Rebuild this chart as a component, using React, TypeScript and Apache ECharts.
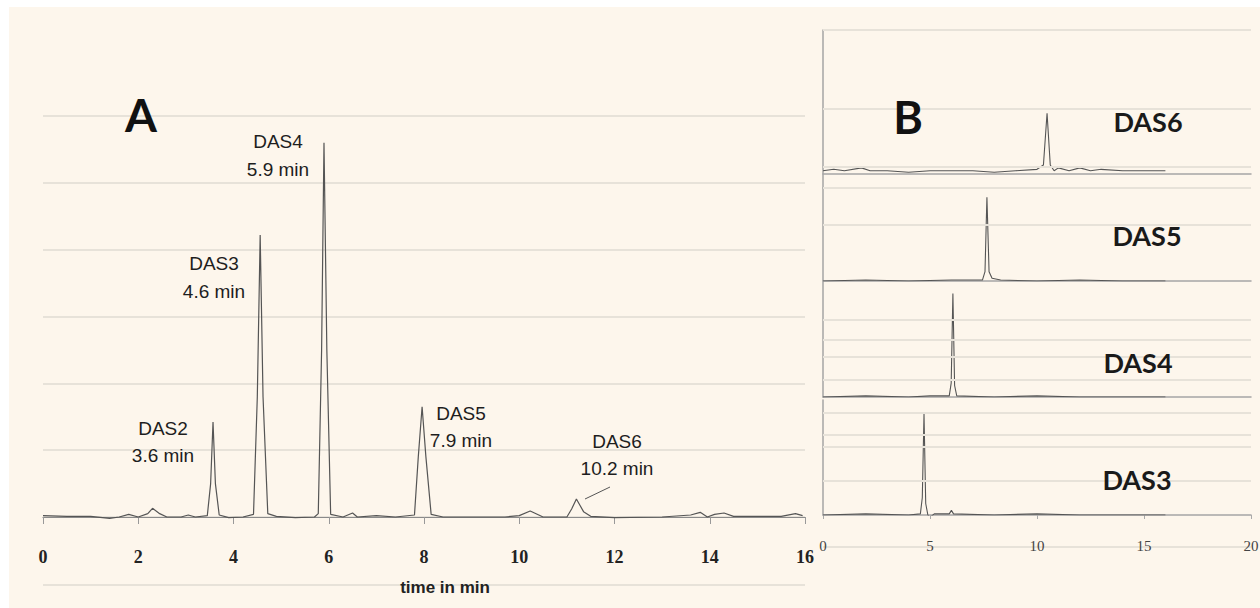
import React, { useEffect, useRef } from "react";
import * as echarts from "echarts";

// Panel A: full chromatogram (time in min, relative response)
const traceA: [number, number][] = [
  [0, 0.02], [0.5, 0.01], [1.0, 0.01], [1.4, -0.02], [1.6, 0.0], [1.8, 0.04], [2.0, 0.0],
  [2.2, 0.05], [2.3, 0.13], [2.45, 0.05], [2.6, 0.0], [2.9, 0.0], [3.05, 0.03], [3.2, 0.0],
  [3.45, 0.02], [3.52, 0.5], [3.57, 1.42], [3.62, 0.5], [3.7, 0.03], [3.9, -0.01], [4.2, 0.0],
  [4.42, 0.04], [4.5, 1.8], [4.56, 4.22], [4.62, 1.8], [4.72, 0.05], [4.9, 0.01], [5.3, -0.01],
  [5.7, 0.0], [5.78, 0.05], [5.85, 2.5], [5.9, 5.6], [5.96, 2.5], [6.04, 0.04], [6.3, 0.0],
  [6.5, 0.06], [6.6, 0.0], [7.0, 0.02], [7.4, 0.0], [7.8, 0.03], [7.88, 0.9], [7.96, 1.65],
  [8.04, 0.9], [8.15, 0.04], [8.4, 0.0], [9.0, 0.0], [9.7, 0.0], [10.0, 0.02], [10.23, 0.09],
  [10.5, 0.0], [11.0, 0.0], [11.1, 0.12], [11.2, 0.27], [11.35, 0.08], [11.5, 0.01], [12.0, -0.01],
  [13.0, 0.0], [13.6, 0.03], [13.8, 0.07], [13.95, 0.0], [14.1, 0.04], [14.3, 0.06], [14.5, 0.01],
  [15.5, 0.01], [15.8, 0.05], [15.95, 0.02],
];

// Panel B: single-standard chromatograms (normalised)
const traceDAS6: [number, number][] = [
  [0, 0.02], [0.5, 0.03], [1, 0.02], [1.8, 0.04], [2.2, 0.02], [3, 0.02], [4, 0.01], [5, 0.02],
  [6, 0.02], [7, 0.02], [8, 0.01], [9, 0.02], [10, 0.03], [10.3, 0.06], [10.47, 0.42],
  [10.62, 0.06], [10.8, 0.02], [11, 0.04], [11.5, 0.02], [12, 0.04], [12.5, 0.02], [13, 0.03],
  [14, 0.02], [15, 0.02], [16, 0.02],
];
const traceDAS5: [number, number][] = [
  [0, 0.0], [2, 0.01], [4, 0.0], [6, 0.01], [7.45, 0.01], [7.57, 0.1], [7.66, 0.9], [7.76, 0.1],
  [7.9, 0.03], [8.3, 0.01], [10, 0.0], [12, 0.01], [14, 0.0], [16, 0.0],
];
const traceDAS4: [number, number][] = [
  [0, 0.0], [2, 0.01], [4, 0.0], [5.0, 0.01], [5.9, 0.01], [5.99, 0.12], [6.07, 0.9], [6.15, 0.1],
  [6.25, 0.01], [8, 0.0], [10, 0.01], [12, 0.0], [14, 0.0], [16, 0.0],
];
const traceDAS3: [number, number][] = [
  [0, 0.0], [2, 0.01], [4, 0.0], [4.55, 0.01], [4.64, 0.15], [4.72, 0.88], [4.8, 0.1], [4.9, 0.0],
  [5.0, -0.02], [5.2, 0.01], [5.9, 0.01], [6.0, 0.04], [6.1, 0.01], [8, 0.0], [10, 0.01],
  [12, 0.0], [14, 0.0], [16, 0.0],
];

const gridB6 = [0.05, 0.45, 1];
const gridB5 = [0.61, 1];
const gridB4 = [0.15, 0.35, 0.5, 0.67];
const gridB3 = [0.3, 0.59, 0.7, 0.89];

const xTicksB = ["0", "5", "10", "15", "20"];

const panelALabels = [
  { name: "DAS2", time: "3.6 min" },
  { name: "DAS3", time: "4.6 min" },
  { name: "DAS4", time: "5.9 min" },
  { name: "DAS5", time: "7.9 min" },
  { name: "DAS6", time: "10.2 min" },
];
const panelBLabels = ["DAS6", "DAS5", "DAS4", "DAS3"];

const BG = "#fdf6ec";
const GRID = "#e7e2d9";
const TRACE = "#555555";

export default function App() {
  const ref = useRef<HTMLDivElement>(null);
  useEffect(() => {
    if (!ref.current) return;
    const chart = echarts.init(ref.current, undefined, { renderer: "svg" });

    const bGrids = [
      { top: 30, bottom: 420, min: -0.1 },
      { top: 188, bottom: 327, min: 0 },
      { top: 282, bottom: 211, min: 0 },
      { top: 400, bottom: 93, min: 0 },
    ];
    const bTraces = [traceDAS6, traceDAS5, traceDAS4, traceDAS3];
    const bGridLines = [gridB6, gridB5, gridB4, gridB3];

    const grids: any[] = [
      { left: 43, right: 455, top: 116, bottom: 91, outerBoundsMode: "none", containLabel: false },
    ];
    const xAxes: any[] = [
      {
        type: "value",
        gridIndex: 0,
        min: 0,
        max: 16,
        interval: 2,
        axisLine: { onZero: false, lineStyle: { color: "#8a8a8a", width: 1.2 } },
        axisTick: { show: true, length: 7, lineStyle: { color: "#999" } },
        axisLabel: {
          margin: 31,
          color: "#222",
          fontFamily: "Liberation Serif",
          fontWeight: "bold",
          fontSize: 18,
        },
        splitLine: { show: false },
      },
    ];
    const yAxes: any[] = [
      {
        type: "value",
        gridIndex: 0,
        min: 0,
        max: 6,
        interval: 1,
        axisLine: { show: false },
        axisTick: { show: false },
        axisLabel: { show: false },
        splitLine: { show: true, lineStyle: { color: GRID, width: 2 } },
      },
    ];
    const series: any[] = [
      {
        type: "line",
        xAxisIndex: 0,
        yAxisIndex: 0,
        data: traceA,
        showSymbol: false,
        symbol: "none",
        lineStyle: { color: TRACE, width: 1.2 },
        silent: true,
        clip: false,
      },
    ];

    bGrids.forEach((g, i) => {
      const idx = i + 1;
      const last = i === bGrids.length - 1;
      grids.push({
        left: 823,
        right: 9,
        top: g.top,
        bottom: g.bottom,
        outerBoundsMode: "none",
        containLabel: false,
      });
      xAxes.push({
        type: "value",
        gridIndex: idx,
        min: 0,
        max: 20,
        interval: 5,
        axisLine: { onZero: true, lineStyle: { color: "#a5a5a5", width: 1.5 } },
        axisTick: { show: last, length: 4, lineStyle: { color: "#aaa" } },
        axisLabel: {
          show: last,
          margin: 23,
          color: "#444",
          fontFamily: "Liberation Serif",
          fontSize: 15,
          formatter: (v: number) => xTicksB[Math.round(v / 5)] ?? "",
        },
        splitLine: { show: false },
      });
      yAxes.push({
        type: "value",
        gridIndex: idx,
        min: g.min,
        max: 1,
        axisLine: { show: true, onZero: false, lineStyle: { color: "#a5a5a5", width: 1.5 } },
        axisTick: { show: false },
        axisLabel: { show: false },
        splitLine: { show: false },
      });
      series.push({
        type: "line",
        xAxisIndex: idx,
        yAxisIndex: idx,
        data: bTraces[i],
        showSymbol: false,
        symbol: "none",
        lineStyle: { color: TRACE, width: 1.1 },
        silent: true,
        markLine: {
          silent: true,
          symbol: "none",
          label: { show: false },
          lineStyle: { color: GRID, width: 2, type: "solid" },
          data: bGridLines[i].map((v) => ({ yAxis: v })),
        },
        z: 3,
      });
    });

    const annFont = {
      fontFamily: "Liberation Sans, Arial, sans-serif",
      fontSize: 19,
      fill: "#1e1e1e",
      align: "center",
      verticalAlign: "middle",
    };
    const annPos = [
      [163, 428, 455],
      [214, 263, 291],
      [278, 141, 169],
      [461, 413, 440],
      [617, 441, 468],
    ];
    const graphics: any[] = [
      {
        type: "rect",
        shape: { x: 9, y: 7, width: 1251, height: 601 },
        style: { fill: BG },
        z: -10,
        silent: true,
      },
      {
        // faint extra gridline below the time axis (as in the original figure)
        type: "line",
        shape: { x1: 43, y1: 585, x2: 805, y2: 585 },
        style: { stroke: GRID, lineWidth: 2 },
        z: -5,
        silent: true,
      },
      {
        type: "line",
        shape: { x1: 823, y1: 547, x2: 1251, y2: 547 },
        style: { stroke: GRID, lineWidth: 2 },
        z: -5,
        silent: true,
      },
    ];
    panelALabels.forEach((l, i) => {
      const [x, y1, y2] = annPos[i];
      graphics.push({ type: "text", x, y: y1, style: { ...annFont, text: l.name }, z: 10 });
      graphics.push({ type: "text", x, y: y2, style: { ...annFont, text: l.time }, z: 10 });
    });
    graphics.push({
      type: "line",
      shape: { x1: 585, y1: 499, x2: 610, y2: 487 },
      style: { stroke: "#555", lineWidth: 1 },
      z: 10,
    });
    graphics.push({
      type: "text",
      x: 445,
      y: 587,
      style: {
        text: "time in min",
        fontFamily: "Liberation Sans, Arial, sans-serif",
        fontWeight: "bold",
        fontSize: 17,
        fill: "#222",
        align: "center",
        verticalAlign: "middle",
      },
      z: 10,
    });
    graphics.push({
      type: "text",
      x: 141,
      y: 114,
      style: {
        text: "A",
        fontFamily: "Lato, sans-serif",
        fontWeight: "bold",
        fontSize: 46,
        fill: "#111",
        align: "center",
        verticalAlign: "middle",
      },
      z: 10,
    });
    graphics.push({
      type: "text",
      x: 908,
      y: 117,
      style: {
        text: "B",
        fontFamily: "Lato, sans-serif",
        fontWeight: "bold",
        fontSize: 45,
        fill: "#111",
        align: "center",
        verticalAlign: "middle",
      },
      z: 10,
    });
    const bLabelPos = [
      [1148, 121],
      [1147, 235],
      [1138, 362],
      [1137, 479],
    ];
    panelBLabels.forEach((t, i) => {
      graphics.push({
        type: "text",
        x: bLabelPos[i][0],
        y: bLabelPos[i][1],
        style: {
          text: t,
          fontFamily: "Lato, sans-serif",
          fontWeight: "bold",
          fontSize: 27,
          fill: "#1a1a1a",
          align: "center",
          verticalAlign: "middle",
        },
        z: 10,
      });
    });

    chart.setOption({
      animation: false,
      backgroundColor: "#ffffff",
      grid: grids,
      xAxis: xAxes,
      yAxis: yAxes,
      series,
      graphic: graphics,
    });
    return () => chart.dispose();
  }, []);
  return (
    <div
      ref={ref}
      style={{ position: "absolute", left: 0, top: 0, width: 1260, height: 608 }}
    />
  );
}
